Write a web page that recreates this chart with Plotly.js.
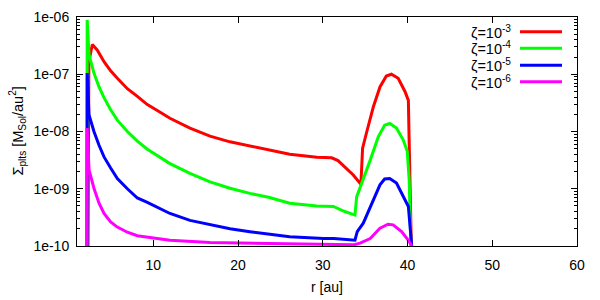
<!DOCTYPE html>
<html>
<head>
<meta charset="utf-8">
<script src="https://cdn.plot.ly/plotly-3.0.1.min.js"></script>
<style>html,body{margin:0;padding:0;background:#fff;}#chart{width:600px;height:300px;}</style>
</head>
<body>
<div id="chart"></div>
<script>
// ---- data ----
const seriesNames = ['ζ=10<sup>-3</sup>', 'ζ=10<sup>-4</sup>', 'ζ=10<sup>-5</sup>', 'ζ=10<sup>-6</sup>'];
const seriesColors = ['#ff0000', '#00ff00', '#0000ff', '#ff00ff'];

const r_z3 = [2.3, 2.4, 2.81, 3.4, 4.19, 4.97, 5.76, 6.94, 8.12, 9.3, 10.67, 11.97, 14.33, 16.69, 19.05, 21.4, 23.6, 26.1, 29.3, 31.05, 31.8, 32.4, 33.6, 34.5, 34.7, 35.2, 35.97, 36.75, 37.5, 38.1, 38.9, 39.7, 40.1, 40.2, 40.45];
const sigma_z3 = [1e-10, 1.66e-7, 3.31e-7, 2.63e-7, 1.66e-7, 1.15e-7, 8.5e-8, 5.6e-8, 4.1e-8, 2.95e-8, 2.24e-8, 1.7e-8, 1.15e-8, 8.3e-9, 6.6e-9, 5.6e-9, 4.8e-9, 4.0e-9, 3.55e-9, 3.47e-9, 3.1e-9, 2.57e-9, 1.74e-9, 1.2e-9, 5.1e-9, 1.0e-8, 2.7e-8, 6.0e-8, 9.3e-8, 1.0e-7, 8.5e-8, 5.0e-8, 3.5e-8, 6.2e-9, 1e-10];

const r_z4 = [2.18, 2.2, 2.42, 3.0, 3.6, 4.19, 4.97, 5.76, 6.94, 8.12, 9.3, 10.67, 11.97, 14.33, 16.69, 19.05, 21.4, 23.6, 26.1, 29.3, 31.25, 32.6, 33.8, 34.0, 34.6, 35.6, 36.55, 37.3, 37.9, 38.7, 39.5, 39.97, 40.2, 40.4];
const sigma_z4 = [1e-10, 8.9e-7, 2.19e-7, 1.05e-7, 6.0e-8, 3.9e-8, 2.4e-8, 1.58e-8, 1.0e-8, 6.8e-9, 4.9e-9, 3.6e-9, 2.75e-9, 1.86e-9, 1.32e-9, 1.02e-9, 8.3e-10, 7.1e-10, 5.6e-10, 5.0e-10, 4.9e-10, 4.0e-10, 3.47e-10, 7.2e-10, 1.23e-9, 3.16e-9, 8.1e-9, 1.29e-8, 1.38e-8, 1.15e-8, 7.1e-9, 4.5e-9, 1.41e-9, 1e-10];

const r_z5 = [2.18, 2.2, 2.42, 3.0, 3.6, 4.19, 4.97, 5.76, 6.94, 8.12, 9.3, 10.67, 11.97, 14.33, 16.69, 19.05, 21.4, 23.6, 26.1, 30.1, 31.3, 33.8, 34.07, 34.78, 35.77, 36.75, 37.3, 37.9, 38.7, 39.5, 40.1, 40.3, 40.5];
const sigma_z5 = [1e-10, 1.05e-7, 1.95e-8, 1.0e-8, 5.75e-9, 3.6e-9, 2.3e-9, 1.51e-9, 1.0e-9, 6.9e-10, 5.8e-10, 4.6e-10, 3.7e-10, 2.8e-10, 2.35e-10, 2.0e-10, 1.78e-10, 1.62e-10, 1.45e-10, 1.35e-10, 1.35e-10, 1.26e-10, 1.78e-10, 2.5e-10, 5.6e-10, 1.17e-9, 1.48e-9, 1.51e-9, 1.26e-9, 7.2e-10, 4.9e-10, 2.2e-10, 1e-10];

const r_z6 = [2.18, 2.2, 2.42, 3.0, 3.6, 4.19, 4.97, 5.76, 6.94, 8.12, 9.61, 11.97, 16.69, 23.6, 30.0, 33.7, 34.4, 35.6, 36.75, 37.7, 38.3, 39.3, 40.1, 40.5];
const sigma_z6 = [1e-10, 1.15e-8, 2.14e-9, 1.02e-9, 5.6e-10, 3.7e-10, 2.63e-10, 2.14e-10, 1.74e-10, 1.51e-10, 1.41e-10, 1.26e-10, 1.15e-10, 1.12e-10, 1.07e-10, 1.05e-10, 1.12e-10, 1.35e-10, 2.04e-10, 2.4e-10, 2.34e-10, 1.78e-10, 1.26e-10, 1e-10];

const xTickVals = [10, 20, 30, 40, 50, 60];
const yTickVals = [1e-10, 1e-9, 1e-8, 1e-7, 1e-6];
const yTickText = ['1e-10', '1e-09', '1e-08', '1e-07', '1e-06'];

// ---- chart ----
const rs = [r_z3, r_z4, r_z5, r_z6];
const sigmas = [sigma_z3, sigma_z4, sigma_z5, sigma_z6];
const FONT = 'Liberation Sans, Arial, sans-serif';

const traces = rs.map((r, i) => ({
  x: r, y: sigmas[i], type: 'scatter', mode: 'lines',
  name: seriesNames[i], showlegend: false,
  line: {color: seriesColors[i], width: 3}
}));

// legend (gnuplot style: text right-aligned, sample on the right)
const legendY = [0.936, 0.863, 0.789, 0.717];
const annotations = seriesNames.map((t, i) => ({
  xref: 'paper', yref: 'paper', x: 0.872, y: legendY[i],
  xanchor: 'right', yanchor: 'middle', text: t, showarrow: false,
  font: {family: FONT, size: 14.5, color: '#000'}
}));
annotations.push({
  xref: 'paper', yref: 'paper', x: -0.12, y: 0.5, xanchor: 'center', yanchor: 'middle',
  text: 'Σ<sub>plts</sub> [M<sub>Sol</sub>/au<sup>2</sup>]', textangle: -90, showarrow: false,
  font: {family: FONT, size: 14.5, color: '#000'}
});
const shapes = seriesColors.map((c, i) => ({
  type: 'line', xref: 'paper', yref: 'paper', x0: 0.886, x1: 0.97, y0: legendY[i], y1: legendY[i],
  line: {color: c, width: 3}
}));

const layout = {
  width: 600, height: 300,
  margin: {l: 77, r: 23, t: 17, b: 54},
  paper_bgcolor: '#fff', plot_bgcolor: '#fff',
  font: {family: FONT, size: 14, color: '#000'},
  showlegend: false,
  xaxis: {
    range: [1, 60], tickmode: 'array', tickvals: xTickVals,
    ticks: 'inside', ticklen: 6, tickcolor: '#000', tickwidth: 1,
    showline: true, linecolor: '#000', linewidth: 1, mirror: 'ticks',
    showgrid: false, zeroline: false, ticklabelstandoff: 6,
    title: {text: 'r [au]', font: {family: FONT, size: 14}, standoff: 10}
  },
  yaxis: {
    type: 'log', range: [-10, -6], tickmode: 'array', tickvals: yTickVals, ticktext: yTickText,
    ticks: 'inside', ticklen: 6, tickcolor: '#000', tickwidth: 1,
    showline: true, linecolor: '#000', linewidth: 1, mirror: 'ticks',
    showgrid: false, zeroline: false, ticklabelstandoff: 4,
    minor: {ticks: 'inside', ticklen: 3, tickcolor: '#000', dtick: 'D1', showgrid: false}
  },
  annotations: annotations,
  shapes: shapes
};

Plotly.newPlot('chart', traces, layout, {staticPlot: true, displayModeBar: false});
</script>
</body>
</html>
